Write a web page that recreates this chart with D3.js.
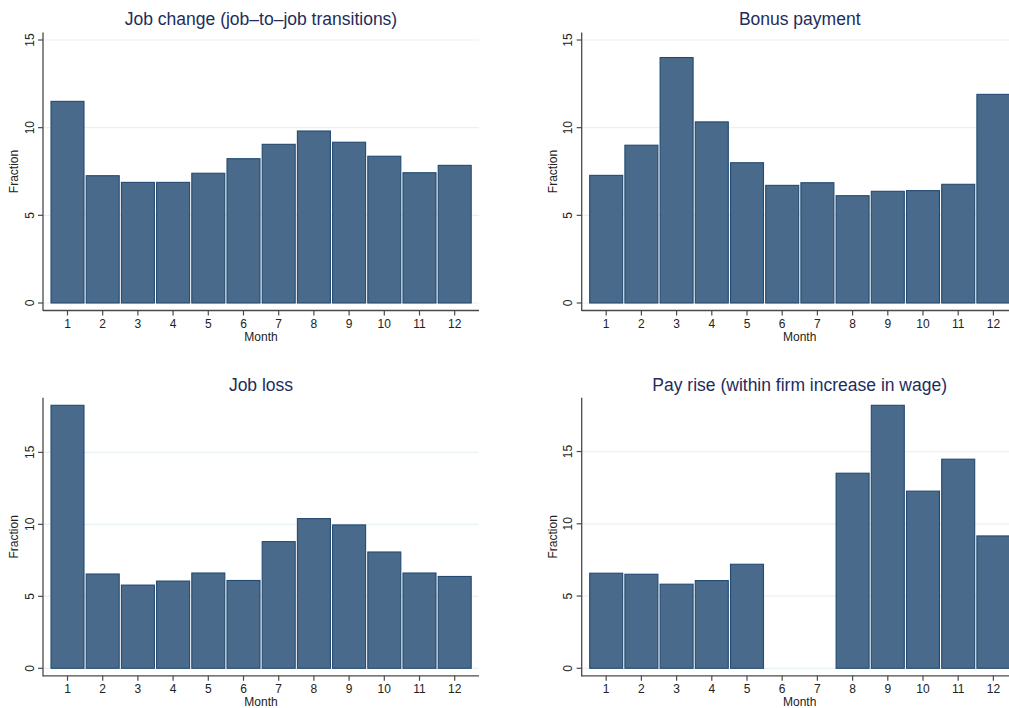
<!DOCTYPE html>
<html>
<head>
<meta charset="utf-8">
<script src="https://cdnjs.cloudflare.com/ajax/libs/d3/7.8.5/d3.min.js"></script>
<style>
  html, body { margin: 0; padding: 0; background: #fff; }
  svg { display: block; font-family: "Liberation Sans", Arial, sans-serif; }
</style>
</head>
<body>
<svg id="chart" width="1009" height="708"></svg>
<script>
const months = [1, 2, 3, 4, 5, 6, 7, 8, 9, 10, 11, 12];
const yTicks = [0, 5, 10, 15];
const titles = [
  "Job change (job\u2013to\u2013job transitions)",
  "Bonus payment",
  "Job loss",
  "Pay rise (within firm increase in wage)"
];
const jobChange = [11.5, 7.26, 6.88, 6.88, 7.40, 8.23, 9.05, 9.81, 9.17, 8.37, 7.43, 7.85];
const bonusPayment = [7.28, 9.0, 14.0, 10.33, 8.0, 6.71, 6.86, 6.12, 6.37, 6.41, 6.77, 11.9];
const jobLoss = [18.27, 6.55, 5.78, 6.06, 6.62, 6.1, 8.8, 10.4, 9.96, 8.08, 6.62, 6.38];
const payRise = [6.58, 6.51, 5.82, 6.07, 7.2, 0, 0, 13.5, 18.2, 12.26, 14.47, 9.16];

const svg = d3.select("#chart");

const panels = [
  { title: titles[0], values: jobChange, ax: 43, zeroY: 303 },
  { title: titles[1], values: bonusPayment, ax: 581.7, zeroY: 303 },
  { title: titles[2], values: jobLoss, ax: 43, zeroY: 668.3 },
  { title: titles[3], values: payRise, ax: 581.7, zeroY: 668.3 }
];

const SPAN = 263;      // pixel span from 0 to domain max
const PADY = 7.5;      // plot region margin vertical
const AXW = 436;       // x-axis length
const STEP = 35.2;

panels.forEach(p => {
  const g = svg.append("g");
  const dmax = Math.max(d3.max(p.values), d3.max(yTicks));
  const y = d3.scaleLinear().domain([0, dmax]).range([p.zeroY, p.zeroY - SPAN]);
  const first = p.ax + 24.5;
  const x = d3.scaleLinear().domain([1, 12]).range([first, first + 11 * STEP]);
  const axisY = p.zeroY + PADY;
  const axisTop = p.zeroY - SPAN - PADY;
  const right = p.ax + AXW;

  // gridlines
  g.selectAll("line.grid").data(yTicks).join("line")
    .attr("x1", p.ax).attr("x2", right)
    .attr("y1", d => y(d)).attr("y2", d => y(d))
    .attr("stroke", "#eaf1f3").attr("stroke-width", 1.2);

  // bars
  const w = x(2) - x(1);
  g.selectAll("rect.bar").data(months.map((m, i) => ({ m, v: p.values[i] })).filter(d => d.v > 0))
    .join("rect")
    .attr("x", d => x(d.m - 0.5) + 1.1)
    .attr("width", w - 2.2)
    .attr("y", d => y(d.v))
    .attr("height", d => y(0) - y(d.v))
    .attr("fill", "#496a8a")
    .attr("stroke", "#234a72")
    .attr("stroke-width", 1.1);

  // axis lines
  g.append("line").attr("x1", p.ax).attr("x2", p.ax).attr("y1", axisTop).attr("y2", axisY + 0.6)
    .attr("stroke", "#4a4a4a").attr("stroke-width", 1.3);
  g.append("line").attr("x1", p.ax).attr("x2", right).attr("y1", axisY).attr("y2", axisY)
    .attr("stroke", "#4a4a4a").attr("stroke-width", 1.3);

  // y ticks
  g.selectAll("line.yt").data(yTicks).join("line")
    .attr("x1", p.ax - 5).attr("x2", p.ax)
    .attr("y1", d => y(d)).attr("y2", d => y(d))
    .attr("stroke", "#4a4a4a").attr("stroke-width", 1.2);
  g.selectAll("text.yt").data(yTicks).join("text")
    .attr("transform", d => `translate(${p.ax - 9.5},${y(d)}) rotate(-90)`)
    .attr("text-anchor", "middle")
    .attr("font-size", 12).attr("fill", "#222")
    .text(d => d);

  // x ticks
  g.selectAll("line.xt").data(months).join("line")
    .attr("x1", d => x(d)).attr("x2", d => x(d))
    .attr("y1", axisY).attr("y2", axisY + 5)
    .attr("stroke", "#4a4a4a").attr("stroke-width", 1.2);
  g.selectAll("text.xt").data(months).join("text")
    .attr("x", d => x(d)).attr("y", axisY + 17.5)
    .attr("text-anchor", "middle")
    .attr("font-size", 12).attr("fill", "#222")
    .text(d => d);

  // axis titles
  g.append("text").attr("x", (p.ax + right) / 2).attr("y", axisY + 30.5)
    .attr("text-anchor", "middle").attr("font-size", 12).attr("fill", "#222").text("Month");
  g.append("text")
    .attr("transform", `translate(${p.ax - 24.7},${(axisTop + axisY) / 2}) rotate(-90)`)
    .attr("text-anchor", "middle").attr("font-size", 12).attr("fill", "#222").text("Fraction");

  // title
  g.append("text").attr("x", (p.ax + right) / 2).attr("y", axisTop - 7.3)
    .attr("text-anchor", "middle").attr("font-size", 17.5).attr("fill", "#1e2d5c")
    .text(p.title);
});
</script>
</body>
</html>
